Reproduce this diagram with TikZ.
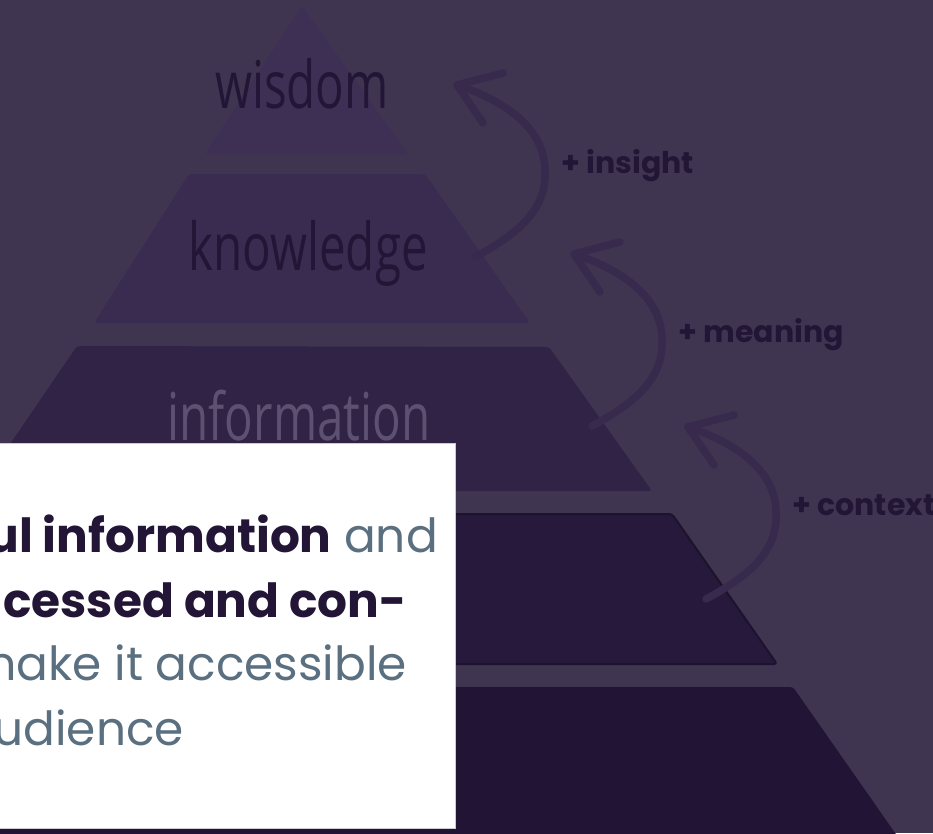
\documentclass[tikz,border=0pt]{standalone}
\usepackage{fontspec}
\setmainfont{Poppins}
\newfontfamily\handfont[FakeStretch=0.72]{Open Sans}
\usepackage{xcolor}
\usepackage{tikz}
\usetikzlibrary{calc}
\definecolor{bgpurple}{HTML}{3F3551}
\definecolor{wisdomcol}{HTML}{3D3054}
\definecolor{knowcol}{HTML}{3A2C50}
\definecolor{infocol}{HTML}{312346}
\definecolor{datacol}{HTML}{26193B}
\definecolor{basecol}{HTML}{211434}
\definecolor{arrowcol}{HTML}{372A4C}
\definecolor{inkdark}{HTML}{221535}
\definecolor{inklight}{HTML}{5C5170}
\definecolor{slate}{HTML}{5A6F7F}
\colorlet{boxedge}{black!20}
\tikzstyle{layer}=[rounded corners=3pt]
\tikzstyle{curlarrow}=[line width=7.5pt,line cap=round,line join=round,draw=arrowcol]
\tikzstyle{gain}=[font=\fontsize{30}{36}\selectfont\bfseries,text=inkdark,inner sep=0pt,anchor=base west]
\tikzstyle{hand}=[font=\handfont\fontsize{66}{66}\selectfont,inner sep=0pt,anchor=base]
\tikzstyle{boxline}=[font=\fontsize{47}{60}\selectfont,inner sep=0pt,anchor=base east]
\newcommand\boldink[1]{\textcolor{inkdark}{\bfseries #1}}

\begin{document}
\begin{tikzpicture}[x=1pt,y=-1pt]
	\useasboundingbox (0,0) rectangle (933,833);
	\fill[bgpurple] (0,0) rectangle (933,833);
	% pyramid
	\fill[layer,wisdomcol] (302,6) -- (408,154) -- (205,154) -- cycle;
	\fill[layer,knowcol] (189,174) -- (425,174) -- (530,323) -- (94,323) -- cycle;
	\fill[layer,infocol] (77,346) -- (549,347) -- (652,491) -- (-22,491) -- cycle;
	\filldraw[layer,fill=datacol,draw=datacol!75!black,line width=2pt] (-20,514) -- (672,514) -- (777,664) -- (-20,664) -- cycle;
	\fill[layer,basecol] (-20,687) -- (793,687) -- (900,840) -- (-20,840) -- cycle;
	\node[hand,text=inkdark]  (wisdom)    at (302,108) {wisdom};
	\node[hand,text=inkdark]  (knowledge) at (308,270) {knowledge};
	\node[hand,text=inklight] (info)      at (299,440) {information};
	% arrows
	\foreach \dx/\dy/\gainword [count=\i] in {0/0/insight,117/169/meaning,231/342/context}{
		\begin{scope}[shift={(\dx,\dy)}]
			\coordinate (tail\i) at (475,257);
			\coordinate (mid\i)  at (545,173);
			\coordinate (tip\i)  at (457,85);
			\draw[curlarrow] (tail\i) .. controls (514,236) and (546,212) .. (mid\i)
				.. controls (546,130) and (508,102) .. (tip\i);
			\draw[curlarrow] (503,73) -- (tip\i) -- (483,123);
			\node[gain] (gain\i) at ($(mid\i)+(16,0)$) {+ \gainword};
		\end{scope}
	}
	% text box
	\filldraw[fill=white,draw=boxedge,line width=.8pt] (-2,443) rectangle (455,828);
	\begin{scope}
		\clip (0,443) rectangle (455,828);
		\node[boxline,text=slate] (line1) at (438,552) {\boldink{ul information} and};
		\node[boxline,text=inkdark] (line2) at (407,617) {\bfseries cessed and con-};
		\node[boxline,text=slate] (line3) at (407,680) {make it accessible};
		\node[boxline,text=slate] (line4) at (184,745) {udience};
	\end{scope}
\end{tikzpicture}
\end{document}
